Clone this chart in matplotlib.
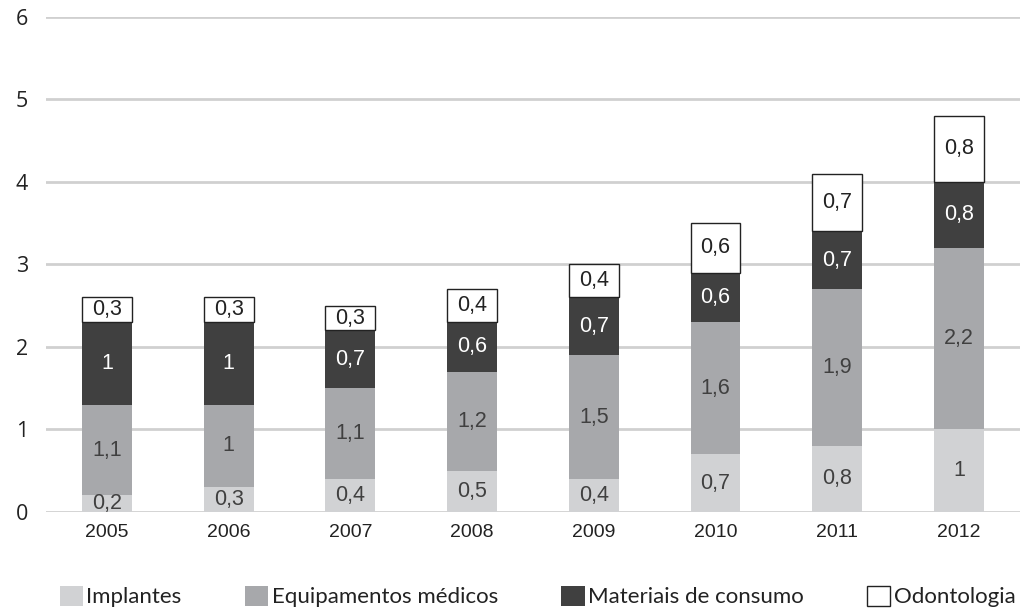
import matplotlib
matplotlib.use('Agg')
import matplotlib.pyplot as plt
import numpy as np

years = ['2005', '2006', '2007', '2008', '2009', '2010', '2011', '2012']
implantes = [0.2, 0.3, 0.4, 0.5, 0.4, 0.7, 0.8, 1.0]
equipamentos = [1.1, 1.0, 1.1, 1.2, 1.5, 1.6, 1.9, 2.2]
materiais = [1.0, 1.0, 0.7, 0.6, 0.7, 0.6, 0.7, 0.8]
odontologia = [0.3, 0.3, 0.3, 0.4, 0.4, 0.6, 0.7, 0.8]

series = [
    ('Implantes', implantes, '#d1d2d4', 'none', '#404040'),
    ('Equipamentos médicos', equipamentos, '#a7a8ab', 'none', '#404040'),
    ('Materiais de consumo', materiais, '#404040', 'none', 'white'),
    ('Odontologia', odontologia, 'white', '#222222', '#222222'),
]


def fmt(v):
    s = ('%.1f' % v).rstrip('0').rstrip('.')
    return s.replace('.', ',')


fig = plt.figure(figsize=(10.26, 6.13), dpi=100)
ax = fig.add_axes([0.0448, 0.1648, 0.9492, 0.8075])

x = np.arange(len(years))
bottom = np.zeros(len(years))
handles = []
for name, vals, color, edge, tcol in series:
    vals = np.array(vals)
    bars = ax.bar(x, vals, 0.41, bottom=bottom, color=color,
                  edgecolor=edge, linewidth=1.0 if edge != 'none' else 0,
                  label=name, zorder=3)
    handles.append(bars)
    for xi, b, v in zip(x, bottom, vals):
        ax.text(xi, b + v / 2, fmt(v), ha='center', va='center',
                fontsize=15.5, color=tcol, family='Liberation Sans',
                zorder=4)
    bottom += vals

ax.set_xlim(-0.5, len(years) - 0.5)
ax.set_ylim(0, 6)
ax.set_yticks(range(7))
ax.set_xticks(x)
ax.set_xticklabels(years, family='Liberation Sans', fontsize=14)
ax.set_yticklabels([str(i) for i in range(7)], family='Open Sans',
                   fontsize=15.5)
ax.tick_params(length=0, colors='#222222')
ax.tick_params(axis='y', pad=13)
ax.tick_params(axis='x', pad=9)
ax.yaxis.grid(True, color='#d0d0d0', linewidth=2, zorder=0)
for s in ax.spines.values():
    s.set_visible(False)

leg = fig.legend(handles=handles, loc='center', bbox_to_anchor=(0.524, 0.027),
                 ncol=4, frameon=False, handlelength=1.05, handleheight=1.05,
                 handletextpad=0.15, columnspacing=2.85,
                 prop={'family': 'Lato', 'size': 16})
for t in leg.get_texts():
    t.set_color('#222222')

plt.savefig('out.png', dpi=100)
